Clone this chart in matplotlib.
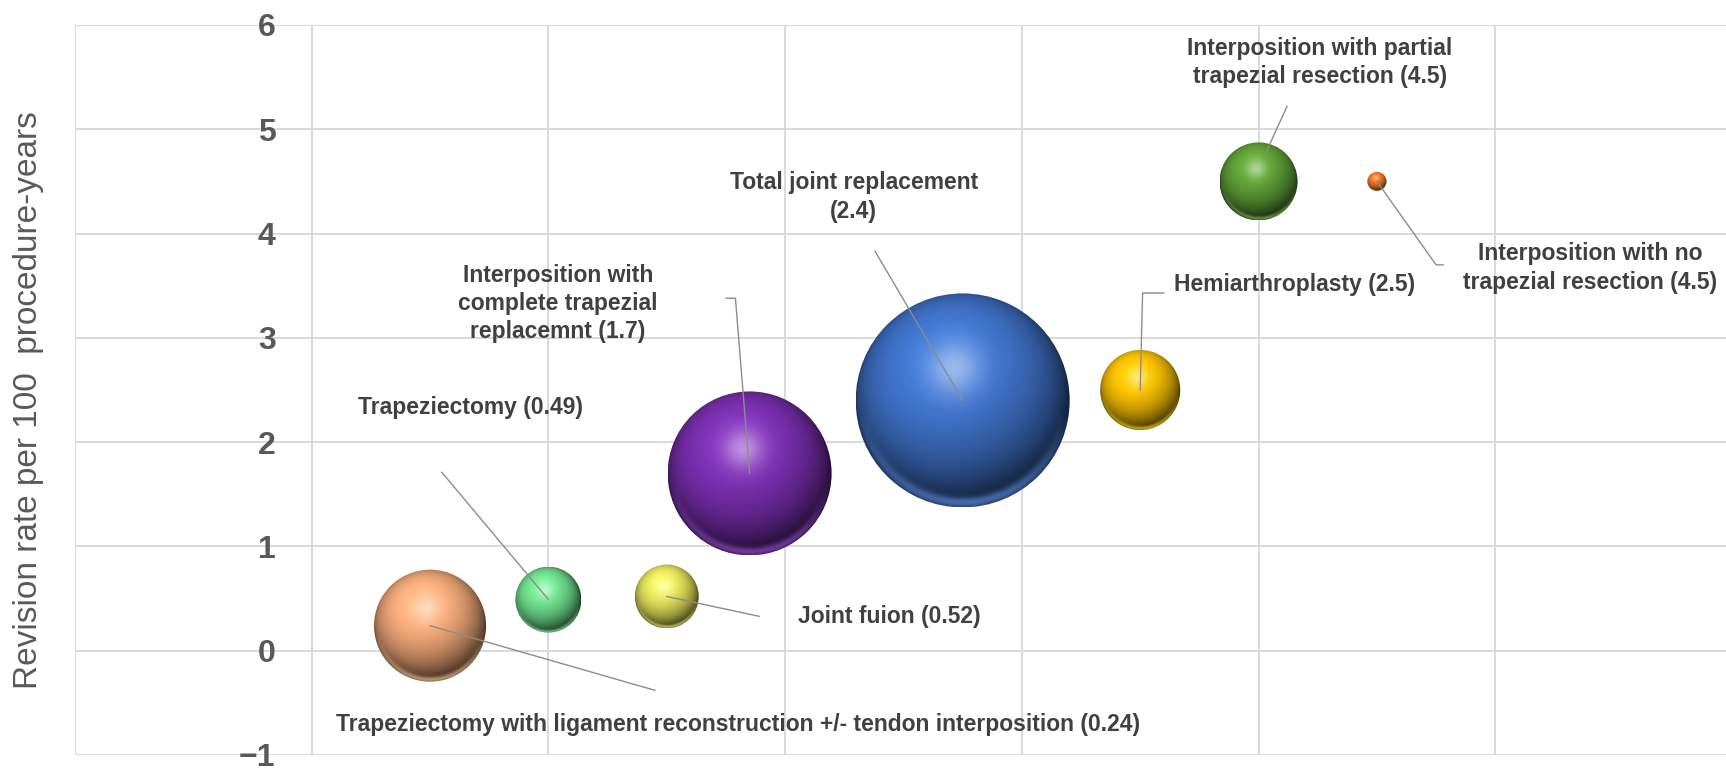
import numpy as np
import matplotlib
matplotlib.use("Agg")
import matplotlib.pyplot as plt
from matplotlib.patches import Circle
from matplotlib.transforms import ScaledTranslation
from matplotlib import font_manager

# data
procedures = [
    "Trapeziectomy with ligament reconstruction +/- tendon interposition",
    "Trapeziectomy",
    "Joint fuion",
    "Interposition with complete trapezial replacemnt",
    "Total joint replacement",
    "Hemiarthroplasty",
    "Interposition with partial trapezial resection",
    "Interposition with no trapezial resection",
]
x_pos = [1.5, 2.0, 2.5, 2.85, 3.75, 4.5, 5.0, 5.5]
revision_rate = [0.24, 0.49, 0.52, 1.7, 2.4, 2.5, 4.5, 4.5]
bubble_size = [27.4, 9.5, 8.9, 58.7, 100.0, 14.0, 13.3, 0.8]
label_text = [
    "Trapeziectomy with ligament reconstruction +/- tendon interposition (0.24)",
    "Trapeziectomy (0.49)",
    "Joint fuion (0.52)",
    "Interposition with\ncomplete trapezial\nreplacemnt (1.7)",
    "Total joint replacement\n(2.4)",
    "Hemiarthroplasty (2.5)",
    "Interposition with partial\ntrapezial resection (4.5)",
    "Interposition with no\ntrapezial resection (4.5)",
]

colors = ["#F0A878", "#6EDC8C", "#E2E25A", "#7A2FB0",
          "#3F72C8", "#F5BE00", "#5E9E36", "#E8762A"]

# label positions (centre) and leader line waypoints, data units
label_xy = [(2.80, -0.71), (1.67, 2.33), (3.44, 0.33), (2.04, 3.33),
            (3.29, 4.35), (5.15, 3.51), (5.26, 5.64), (6.40, 3.67)]
leader_pts = [
    [(2.45, -0.38)],
    [(1.55, 1.71)],
    [(2.89, 0.33)],
    [(2.79, 3.38), (2.75, 3.38)],
    [(3.38, 3.83)],
    [(4.51, 3.43), (4.60, 3.43)],
    [(5.12, 5.22)],
    [(5.75, 3.70), (5.78, 3.70)],
]
leader_end = [None, None, None, None, None, None, (5.03, 4.77), None]

available = {f.name for f in font_manager.fontManager.ttflist}
narrow = "Liberation Sans Narrow" if "Liberation Sans Narrow" in available else "Liberation Sans"
plt.rcParams['font.family'] = [narrow, 'DejaVu Sans']

W, H, DPI = 1726, 769, 100
fig = plt.figure(figsize=(W / DPI, H / DPI), dpi=DPI)
ax = fig.add_axes([75 / W, 14 / H, (1732 - 75) / W, (755 - 25) / H])
ax.set_xlim(0, 7)
ax.set_ylim(-1, 6)

ax.set_xticks(np.arange(0, 8))
ax.set_yticks(np.arange(-1, 7))
ax.grid(True, color="#D9D9D9", linewidth=1.4)
ax.set_axisbelow(True)
for s in ax.spines.values():
    s.set_visible(False)
ax.spines['left'].set_position(('data', 1))
ax.tick_params(axis='both', length=0)
ax.tick_params(axis='x', labelbottom=False)
ax.tick_params(axis='y', pad=26, labelsize=23, labelcolor="#595959")
for t in ax.get_yticklabels():
    t.set_fontweight('bold')

fig.text(29 / W, 1 - 400 / H, "Revision rate per 100  procedure-years",
         rotation=90, ha='center', va='center', fontsize=24, color="#595959")


def sphere(color, n=240):
    u = np.linspace(-1, 1, n)
    X, Y = np.meshgrid(u, u)
    r2 = X ** 2 + Y ** 2
    Z = np.sqrt(np.clip(1 - r2, 0, 1))
    L = np.array([-0.2, 0.45, 1.0])
    L = L / np.linalg.norm(L)
    diff = np.clip(X * L[0] + Y * L[1] + Z * L[2], 0, 1)
    base = np.array(matplotlib.colors.to_rgb(color))
    img = base[None, None, :] * (0.32 + 0.8 * diff[..., None])
    spec = np.exp(-((X + 0.08) ** 2 + (Y - 0.3) ** 2) / 0.06) * 0.45
    img = img + spec[..., None] * (1 - img)
    rim = np.exp(-((np.sqrt(r2) - 0.96) / 0.05) ** 2) * np.clip(-Y - 0.1, 0, 1) * 0.7
    img = img + rim[..., None] * (np.clip(base + 0.15, 0, 1) - img)
    return np.clip(img, 0, 1)


scale_px = 10.7
for i in range(len(x_pos)):
    r_in = scale_px * np.sqrt(bubble_size[i]) / DPI
    trans = fig.dpi_scale_trans + ScaledTranslation(x_pos[i], revision_rate[i], ax.transData)
    im = ax.imshow(sphere(colors[i]), origin='lower', extent=(-r_in, r_in, -r_in, r_in),
                   transform=trans, aspect='auto', interpolation='bilinear', zorder=2)
    clip = Circle((0, 0), r_in, transform=trans)
    im.set_clip_path(clip)

ax.set_xlim(0, 7)
ax.set_ylim(-1, 6)

for i in range(len(x_pos)):
    end = leader_end[i] if leader_end[i] else (x_pos[i], revision_rate[i])
    pts = [end] + leader_pts[i]
    xs = [p[0] for p in pts]
    ys = [p[1] for p in pts]
    ax.plot(xs, ys, color="#8C8C8C", linewidth=1.0, zorder=3)
    ax.text(label_xy[i][0], label_xy[i][1], label_text[i], ha='center', va='center',
            fontsize=16.5, fontweight='bold', color="#404040", linespacing=1.3, zorder=4)

fig.savefig("out.png", dpi=DPI)
